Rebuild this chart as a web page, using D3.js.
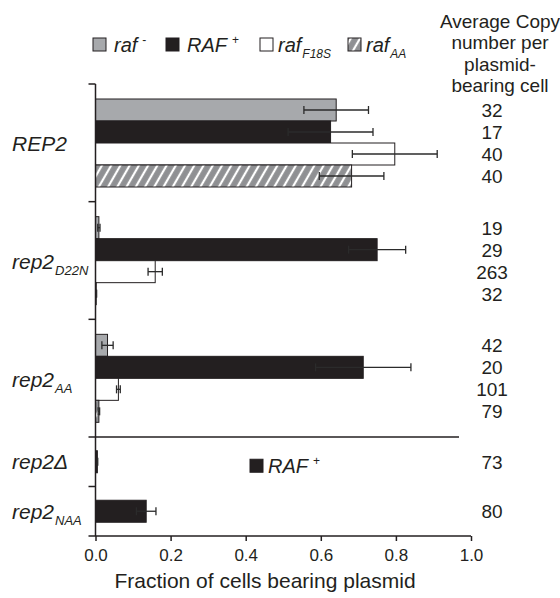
<!DOCTYPE html>
<html>
<head>
<meta charset="utf-8">
<script src="https://cdn.jsdelivr.net/npm/d3@7"></script>
<style>
  body { margin: 0; background: #fff; }
  svg text { font-family: "Liberation Sans", Arial, sans-serif; fill: #231f20; }
</style>
</head>
<body>
<div id="wrapper"></div>
<script>
// upper section: three REP2 alleles, four raf strains each
const groups = ["REP2", "rep2D22N", "rep2AA"]
const groupLabels = [["REP2", ""], ["rep2", "D22N"], ["rep2", "AA"]]
const series = ["raf-", "RAF+", "rafF18S", "rafAA"]

const rafMinus = [0.641, 0.009, 0.032]
const rafMinusErr = [0.086, 0.003, 0.015]
const rafPlus = [0.626, 0.75, 0.713]
const rafPlusErr = [0.113, 0.076, 0.127]
const rafF18S = [0.797, 0.159, 0.061]
const rafF18SErr = [0.113, 0.019, 0.005]
const rafAA = [0.682, 0.002, 0.009]
const rafAAErr = [0.086, 0.001, 0.002]

const copyMinus = [32, 19, 42]
const copyPlus = [17, 29, 20]
const copyF18S = [40, 263, 101]
const copyAA = [40, 32, 79]

// lower section: RAF+ only
const lowerGroups = ["rep2Delta", "rep2NAA"]
const lowerLabels = [["rep2\u0394", ""], ["rep2", "NAA"]]
const lowerValues = [0.005, 0.135]
const lowerErr = [0.001, 0.026]
const lowerCopy = [73, 80]

const xTicks = [0, 0.2, 0.4, 0.6, 0.8, 1.0]
const headerLines = ["Average Copy", "number per", "plasmid-", "bearing cell"]

const colors = { "raf-": "#a7a9ac", "RAF+": "#231f20", "rafF18S": "#ffffff", "rafAA": "url(#hatch)" }

const width = 560
const height = 598

// build rows from the arrays
const valueBySeries = [rafMinus, rafPlus, rafF18S, rafAA]
const errBySeries = [rafMinusErr, rafPlusErr, rafF18SErr, rafAAErr]
const copyBySeries = [copyMinus, copyPlus, copyF18S, copyAA]
const upperRows = []
groups.forEach((g, gi) => {
  series.forEach((s, si) => {
    upperRows.push({ group: g, series: s, value: valueBySeries[si][gi], err: errBySeries[si][gi], copy: copyBySeries[si][gi] })
  })
})
const lowerRows = lowerGroups.map((g, i) => ({ group: g, series: "RAF+", value: lowerValues[i], err: lowerErr[i], copy: lowerCopy[i] }))

const svg = d3.select("#wrapper").append("svg")
  .attr("width", width)
  .attr("height", height)

// hatch pattern for rafAA
const defs = svg.append("defs")
const pat = defs.append("pattern")
  .attr("id", "hatch")
  .attr("patternUnits", "userSpaceOnUse")
  .attr("width", 8).attr("height", 8)
  .attr("patternTransform", "rotate(30)")
pat.append("rect").attr("width", 8).attr("height", 8).attr("fill", "#8f9093")
pat.append("line").attr("x1", 3).attr("x2", 3).attr("y1", 0).attr("y2", 8)
  .attr("stroke", "#fff").attr("stroke-width", 2.2)

const x = d3.scaleLinear().domain([0, 1]).range([95.5, 471])

const yUpper = d3.scaleBand().domain(groups).range([84, 437])
const yInner = d3.scaleBand().domain(series).range([15, 103])
const yLower = d3.scaleBand().domain(lowerGroups).range([437, 536])
const barH = yInner.bandwidth()

const lowerIndex = {}
lowerGroups.forEach(g => lowerIndex[g] = true)
const rowY = d => d.group in lowerIndex
  ? yLower(d.group) + yLower.bandwidth() / 2 - barH / 2
  : yUpper(d.group) + yInner(d.series)

const allRows = upperRows.concat(lowerRows)

// bars
svg.append("g").selectAll("rect")
  .data(allRows)
  .join("rect")
    .attr("x", x(0))
    .attr("y", d => rowY(d))
    .attr("width", d => x(d.value) - x(0))
    .attr("height", barH)
    .attr("fill", d => colors[d.series])
    .attr("stroke", "#231f20")
    .attr("stroke-width", 1)

// error bars
const eb = svg.append("g").attr("stroke", "#2b2b2b").attr("stroke-width", 1.3)
allRows.forEach(d => {
  const cy = rowY(d) + barH / 2
  const lo = x(Math.max(0, d.value - d.err))
  const hi = x(d.value + d.err)
  eb.append("line").attr("x1", lo).attr("x2", hi).attr("y1", cy).attr("y2", cy)
  eb.append("line").attr("x1", lo).attr("x2", lo).attr("y1", cy - 4).attr("y2", cy + 4)
  eb.append("line").attr("x1", hi).attr("x2", hi).attr("y1", cy - 4).attr("y2", cy + 4)
})

// copy numbers
svg.append("g").selectAll("text")
  .data(allRows)
  .join("text")
    .attr("x", 492)
    .attr("y", d => rowY(d) + barH / 2)
    .attr("dy", "0.36em")
    .attr("text-anchor", "middle")
    .attr("font-size", 19)
    .text(d => d.copy)

// vertical axis with ticks at group boundaries
const axisG = svg.append("g").attr("stroke", "#231f20").attr("stroke-width", 1.5)
axisG.append("line").attr("x1", x(0)).attr("x2", x(0)).attr("y1", 84).attr("y2", 536)
const boundaries = groups.map(g => yUpper(g)).concat(lowerGroups.map(g => yLower(g)))
boundaries.forEach(b => {
  axisG.append("line").attr("x1", x(0) - 7).attr("x2", x(0)).attr("y1", b).attr("y2", b)
})
// separator
axisG.append("line").attr("x1", x(0)).attr("x2", 459).attr("y1", 437).attr("y2", 437)

// bottom axis
const xAxis = svg.append("g")
  .attr("transform", "translate(0,536)")
  .call(d3.axisBottom(x).tickValues(xTicks).tickFormat(d3.format(".1f")).tickSize(5).tickSizeOuter(0))
xAxis.select(".domain").attr("stroke", "#231f20").attr("stroke-width", 1.5)
  .attr("d", `M${x(0) - 7},0H${x(1)}`)
xAxis.selectAll(".tick line").attr("stroke", "#231f20").attr("stroke-width", 1.5)
xAxis.selectAll(".tick text")
  .attr("font-size", 17)
  .attr("font-family", "Liberation Sans, Arial, sans-serif")
  .attr("fill", "#231f20")
  .attr("dy", "1.0em")

svg.append("text")
  .attr("x", 265).attr("y", 588)
  .attr("text-anchor", "middle")
  .attr("font-size", 21)
  .text("Fraction of cells bearing plasmid")

// category labels
function addLabel(lbl, cy) {
  const t = svg.append("text")
    .attr("x", 12).attr("y", cy)
    .attr("dy", "0.36em")
    .attr("font-size", 21)
    .attr("font-style", "italic")
  t.append("tspan").text(lbl[0])
  if (lbl[1]) {
    t.append("tspan").attr("font-size", 13).attr("dy", 6).attr("dx", 1).text(lbl[1])
  }
}
groups.forEach((g, i) => addLabel(groupLabels[i], yUpper(g) + yUpper.bandwidth() / 2 + 1))
lowerGroups.forEach((g, i) => addLabel(lowerLabels[i], yLower(g) + yLower.bandwidth() / 2))

// legend
const legendItems = [
  { s: "raf-", base: "raf", sup: "-", sub: "", x: 93 },
  { s: "RAF+", base: "RAF", sup: "+", sub: "", x: 166 },
  { s: "rafF18S", base: "raf", sup: "", sub: "F18S", x: 260 },
  { s: "rafAA", base: "raf", sup: "", sub: "AA", x: 348 }
]
function legendEntry(item, lx, cy, gap) {
  svg.append("rect")
    .attr("x", lx).attr("y", cy - 6.5)
    .attr("width", 13).attr("height", 13)
    .attr("fill", colors[item.s])
    .attr("stroke", "#231f20").attr("stroke-width", 1)
  const t = svg.append("text")
    .attr("x", lx + 13 + gap).attr("y", cy)
    .attr("dy", "0.36em")
    .attr("font-size", 20)
    .attr("font-style", "italic")
  t.append("tspan").text(item.base)
  if (item.sup) t.append("tspan").attr("font-size", 12).attr("dx", 5).attr("dy", -8).attr("font-style", "normal").text(item.sup)
  if (item.sub) t.append("tspan").attr("font-size", 12).attr("dy", 6).attr("dx", 1).text(item.sub)
}
legendItems.forEach(item => legendEntry(item, item.x, 44.5, item.s === "raf-" || item.s === "RAF+" ? 8 : 5))
legendEntry(legendItems[1], 250, yLower(lowerGroups[0]) + yLower.bandwidth() / 2 + 4, 5)

// right header
svg.append("g").selectAll("text")
  .data(headerLines)
  .join("text")
    .attr("x", 500)
    .attr("y", (d, i) => 28 + i * 21.3)
    .attr("text-anchor", "middle")
    .attr("font-size", 19)
    .text(d => d)
</script>
</body>
</html>
